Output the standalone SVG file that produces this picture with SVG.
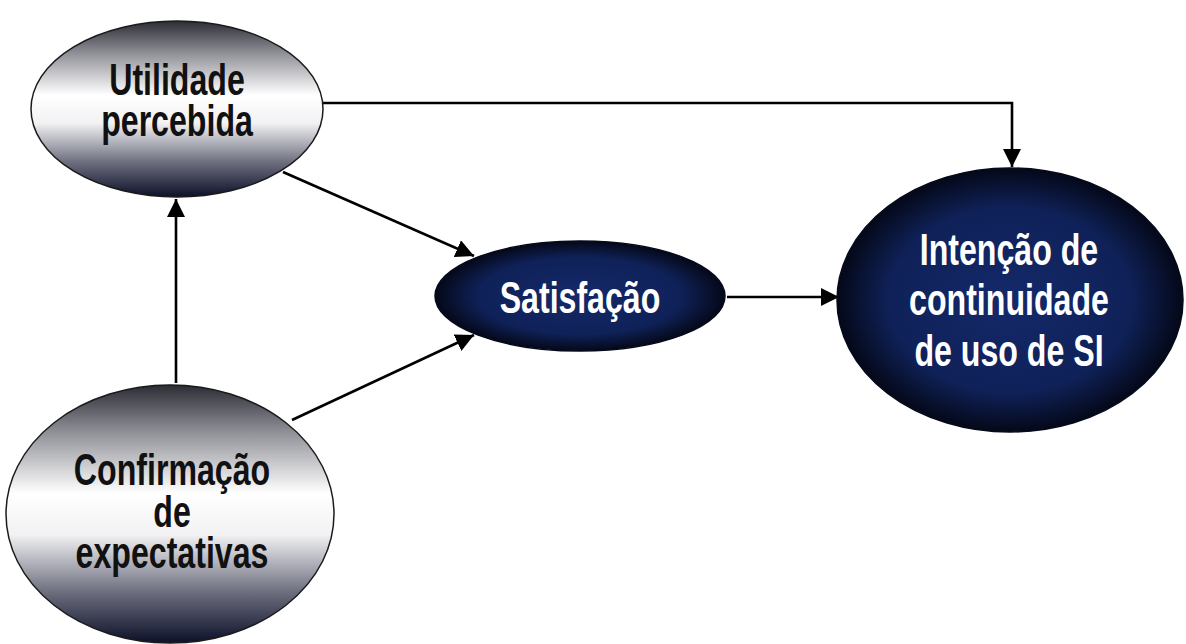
<svg xmlns="http://www.w3.org/2000/svg" width="1186" height="644" viewBox="0 0 1186 644">
  <defs>
    <linearGradient id="gGray" x1="0" y1="0" x2="0" y2="1">
      <stop offset="0" stop-color="#2c2c34"/>
      <stop offset="0.18" stop-color="#8e8f96"/>
      <stop offset="0.42" stop-color="#ffffff"/>
      <stop offset="0.58" stop-color="#f2f2f4"/>
      <stop offset="0.8" stop-color="#6e7080"/>
      <stop offset="1" stop-color="#0c1028"/>
    </linearGradient>
    <radialGradient id="gNavy" cx="0.5" cy="0.5" r="0.5">
      <stop offset="0" stop-color="#14296a"/>
      <stop offset="0.7" stop-color="#0f2158"/>
      <stop offset="1" stop-color="#040818"/>
    </radialGradient>
    <marker id="arr" viewBox="0 0 10 10" refX="10" refY="5" markerWidth="7" markerHeight="7" markerUnits="strokeWidth" orient="auto">
      <path d="M0,0 L10,5 L0,10 Z" fill="#000"/>
    </marker>
    <style>
      .gray { fill: url(#gGray); stroke: #1a1a1a; stroke-width: 1.5; }
      .navy { fill: url(#gNavy); stroke: #050a1c; stroke-width: 1.5; }
      .lbl { font-family: "Liberation Sans", Arial, sans-serif; font-weight: bold; font-size: 44px; text-anchor: middle; }
      .dk { fill: #111; }
      .lt { fill: #fff; }
      .conn { fill: none; stroke: #000; stroke-width: 2.6; marker-end: url(#arr); }
    </style>
  </defs>
  <rect width="1186" height="644" fill="#fff"/>

  <g id="connectors">
    <path class="conn" d="M323,103 H1012 V167"/>
    <path class="conn" d="M283,172 L474,256"/>
    <path class="conn" d="M176,383 V199"/>
    <path class="conn" d="M292,420 L474,335"/>
    <path class="conn" d="M727,297 H839"/>
  </g>

  <g id="utilidade">
    <ellipse class="gray" cx="177" cy="109" rx="146" ry="88"/>
    <g transform="translate(177,0) scale(0.73,1)">
      <text class="lbl dk" x="0" y="95">Utilidade</text>
      <text class="lbl dk" x="0" y="136">percebida</text>
    </g>
  </g>

  <g id="confirmacao">
    <ellipse class="gray" cx="170" cy="514" rx="164" ry="129"/>
    <g transform="translate(172,0) scale(0.73,1)">
      <text class="lbl dk" x="0" y="485">Confirmação</text>
      <text class="lbl dk" x="0" y="527">de</text>
      <text class="lbl dk" x="0" y="568">expectativas</text>
    </g>
  </g>

  <g id="satisfacao">
    <ellipse class="navy" cx="580" cy="296" rx="145" ry="55"/>
    <g transform="translate(580,0) scale(0.73,1)">
      <text class="lbl lt" x="0" y="313">Satisfação</text>
    </g>
  </g>

  <g id="intencao">
    <ellipse class="navy" cx="1010" cy="300" rx="173" ry="132"/>
    <g transform="translate(1009,0) scale(0.73,1)">
      <text class="lbl lt" x="0" y="265">Intenção de</text>
      <text class="lbl lt" x="0" y="315">continuidade</text>
      <text class="lbl lt" x="0" y="366">de uso de SI</text>
    </g>
  </g>
</svg>
